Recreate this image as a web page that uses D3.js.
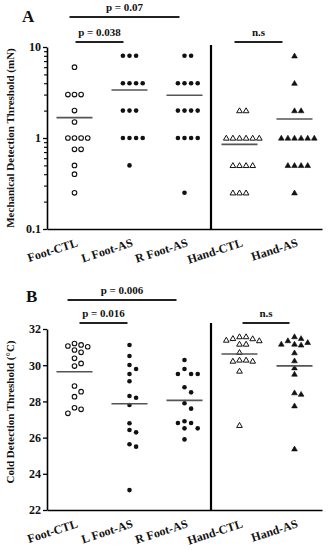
<!DOCTYPE html>
<html><head><meta charset="utf-8">
<script src="https://cdn.jsdelivr.net/npm/d3@7"></script>
<style>body{margin:0;background:#fff}svg{display:block}text{font-family:"Liberation Serif","DejaVu Serif",serif;font-weight:bold}</style>
</head><body>
<svg id="c" width="328" height="550"></svg>
<script>
const categories = ["Foot-CTL","L Foot-AS","R Foot-AS","Hand-CTL","Hand-AS"];

// Panel A: Mechanical detection threshold (mN)
const mechFootCTL = [6,3,3,3,2,1.5,1,1,1,1,0.75,0.75,0.5,0.4,0.25];
const mechLFootAS = [8,8,8,4,4,4,4,2,2,2,1,1,1,1,0.5];
const mechRFootAS = [8,8,4,4,4,4,2,2,2,2,1,1,1,1,0.25];
const mechHandCTL = [2,2,1,1,1,1,1,1,0.5,0.5,0.5,0.5,0.25,0.25,0.25];
const mechHandAS  = [8,4,2,2,1,1,1,1,1,1,0.5,0.5,0.5,0.5,0.25];
const mechMajorTicks = [0.1,1,10];
const mechMajorLabels = ["0.1","1","10"];
const mechMinorTicks = [0.2,0.3,0.4,0.5,0.6,0.7,0.8,0.9,2,3,4,5,6,7,8,9];

// Panel B: Cold detection threshold (°C)
const coldFootCTL = [31.2,31.12,31.06,31.02,30.84,30.71,30.38,30.1,29.95,28.85,28.54,28.26,27.65,27.56,27.34];
const coldLFootAS = [31.12,30.51,30.01,29.79,29.51,29.11,28.3,28.2,27.8,26.79,26.42,26.29,25.63,25.5,23.1];
const coldRFootAS = [30.29,29.79,29.51,29.51,29.51,28.78,28.5,27.9,27.6,26.9,26.81,26.81,26.51,26.51,25.9];
const coldHandCTL = [31.58,31.58,31.48,31.47,31.39,31.36,31.17,31.17,30.71,30.29,30.29,30.23,30.23,29.68,26.68];
const coldHandAS  = [31.58,31.48,31.36,31.26,31.17,31.17,31.12,30.69,30.25,29.86,29.51,28.48,28.4,27.76,25.38];
const coldTicks = [22,24,26,28,30,32];

const shapes = ["openCircle","dot","dot","openTri","tri"];

const svg = d3.select("#c");
const left = 47, right = 322;

function drawPanel(o){
  const g = svg.append("g");
  const x = d3.scaleBand().domain(categories).range([left,right]);
  const y = o.y;
  // y axis
  g.append("g").attr("transform",`translate(${left},0)`)
    .call(d3.axisLeft(y).tickValues(o.majors).tickFormat((d,i)=>o.labels[i]).tickSize(4).tickSizeOuter(0).tickPadding(2))
    .call(a=>{a.select(".domain").attr("stroke","#000").attr("stroke-width",1.6);
      a.selectAll(".tick line").attr("stroke","#000").attr("stroke-width",1.3);
      a.selectAll("text").attr("font-size",12).attr("fill","#111").style("font-family","Liberation Serif").style("font-weight","bold");});
  if(o.minors){
    g.append("g").attr("transform",`translate(${left},0)`)
      .call(d3.axisLeft(y).tickValues(o.minors).tickFormat("").tickSize(3).tickSizeOuter(0))
      .call(a=>{a.select(".domain").remove();a.selectAll(".tick line").attr("stroke","#000").attr("stroke-width",1.1);});
  }
  // x axis
  const y0 = y.range()[0];
  g.append("g").attr("transform",`translate(0,${y0})`)
    .call(d3.axisBottom(x).tickSize(0).tickSizeOuter(0).tickFormat(""))
    .call(a=>{a.select(".domain").attr("stroke","#000").attr("stroke-width",1.6);});
  categories.forEach(c=>{
    const cx = x(c)+x.bandwidth()/2;
    g.append("text").attr("transform",`translate(${cx+4},${y0+17}) rotate(-18)`)
      .attr("text-anchor","end").attr("font-size",12).attr("fill","#111").text(c);
  });
  // separator
  const sepX = x(categories[3]);
  g.append("line").attr("x1",sepX-1).attr("x2",sepX-1).attr("y1",o.sepTop).attr("y2",y0)
    .attr("stroke","#000").attr("stroke-width",2.2);
  // y title
  g.append("text").attr("transform",`translate(14,${o.titleY}) rotate(-90)`)
    .attr("text-anchor","middle").attr("font-size",11).attr("fill","#111").text(o.yTitle);
  // panel letter
  g.append("text").attr("x",o.letterX).attr("y",o.letterY).attr("font-size",17).attr("fill","#111").text(o.letter);
  // points with dodge
  const step = 6.6, minD = 5.8;
  o.series.forEach((vals,i)=>{
    const cx = x(categories[i])+x.bandwidth()/2;
    const placed = [];
    vals.forEach(v=>{
      const py = y(v);
      let k=0, px=cx;
      const order=[0,1,-1,2,-2,3,-3,4,-4];
      for(const kk of order){
        const tx = cx+kk*step;
        if(placed.every(p=>Math.hypot(p[0]-tx,p[1]-py)>=minD)){px=tx;break;}
      }
      placed.push([px,py]);
      const s = shapes[i];
      if(s==="openCircle") g.append("circle").attr("cx",px).attr("cy",py).attr("r",2.3).attr("fill","#fff").attr("stroke","#111").attr("stroke-width",1.1);
      else if(s==="dot") g.append("circle").attr("cx",px).attr("cy",py).attr("r",2.3).attr("fill","#111");
      else g.append("path").attr("d",d3.symbol(d3.symbolTriangle,14)()).attr("transform",`translate(${px},${py+0.5})`)
        .attr("fill",s==="tri"?"#111":"#fff").attr("stroke","#111").attr("stroke-width",s==="tri"?0.6:1);
    });
    const m = d3.mean(vals);
    g.append("line").attr("x1",cx-18).attr("x2",cx+18).attr("y1",y(m)).attr("y2",y(m)).attr("stroke","#555").attr("stroke-width",1.6);
  });
  // brackets
  o.brackets.forEach(b=>{
    const x1 = x(categories[b.from])+x.bandwidth()/2 + b.dx1, x2 = x(categories[b.to])+x.bandwidth()/2 + b.dx2;
    g.append("line").attr("x1",x1).attr("x2",x2).attr("y1",b.y).attr("y2",b.y).attr("stroke","#222").attr("stroke-width",1.8);
    g.append("text").attr("x",(x1+x2)/2 + (b.tdx||0)).attr("y",b.y-6).attr("text-anchor","middle").attr("font-size",11).attr("fill","#111").text(b.text);
  });
}

drawPanel({
  y: d3.scaleLog().domain([0.1,10]).range([229,47]),
  majors: mechMajorTicks, labels: mechMajorLabels, minors: mechMinorTicks,
  series: [mechFootCTL,mechLFootAS,mechRFootAS,mechHandCTL,mechHandAS],
  sepTop: 45, titleY: 138, yTitle: "Mechanical Detection Threshold (mN)",
  letter: "A", letterX: 22, letterY: 22,
  brackets: [
    {from:0,to:2,y:17,text:"p = 0.07",dx1:-5,dx2:-5},
    {from:0,to:1,y:42,text:"p = 0.038",dx1:1,dx2:-6},
    {from:3,to:4,y:42,text:"n.s",dx1:-5,dx2:-12}
  ]
});

drawPanel({
  y: d3.scaleLinear().domain([22,32]).range([510,329]),
  majors: coldTicks, labels: coldTicks.map(String), minors: null,
  series: [coldFootCTL,coldLFootAS,coldRFootAS,coldHandCTL,coldHandAS],
  sepTop: 323, titleY: 412, yTitle: "Cold Detection Threshold (°C)",
  letter: "B", letterX: 26, letterY: 302,
  brackets: [
    {from:0,to:2,y:300,text:"p = 0.006",dx1:-7,dx2:-8},
    {from:0,to:1,y:323,text:"p = 0.016",dx1:5,dx2:-2},
    {from:3,to:4,y:323,text:"n.s",dx1:3,dx2:-5}
  ]
});
</script>
</body></html>
